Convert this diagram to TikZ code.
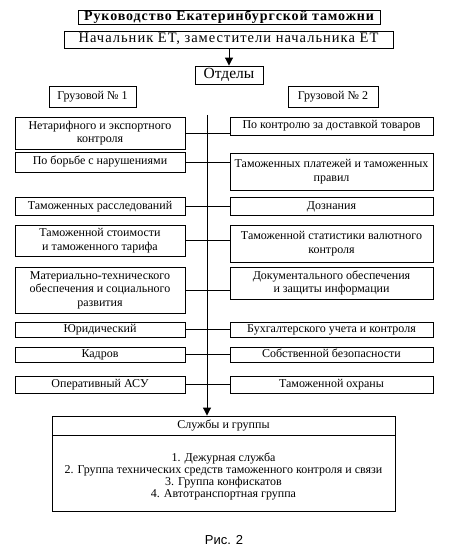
\documentclass[tikz,border=0pt]{standalone}
\usepackage{fontspec}
\setmainfont{Liberation Serif}
\newfontfamily\sansfnt{Liberation Sans}
\usetikzlibrary{arrows.meta}
\begin{document}
\begin{tikzpicture}[x=1pt,y=-1pt,
  box/.style={draw, line width=0.9pt, inner sep=1pt, align=center, font=\fontsize{12}{13.5}\selectfont},
  oneline/.style={text height=8.5pt, text depth=2.5pt},
  conn/.style={line width=0.9pt},
  arr/.style={line width=1pt, -{Triangle[length=8pt,width=8pt]}}]
\useasboundingbox (0,0) rectangle (451,553);
% top
\node[box, minimum width=302pt, minimum height=14pt, inner sep=0.5pt, text height=9.5pt, text depth=2.5pt, font=\bfseries\fontsize{14}{15}\addfontfeature{LetterSpace=6.5}\selectfont] (T) at (229,17) {Руководство Екатеринбургской таможни};
\node[box, minimum width=329pt, minimum height=17pt, inner sep=0.5pt, text height=10pt, text depth=3pt, font=\fontsize{14.5}{15}\addfontfeature{LetterSpace=7}\selectfont] (B) at (228.5,39.5) {Начальник ЕТ, заместители начальника ЕТ};
\node[box, minimum width=68pt, minimum height=18pt, text height=10.5pt, text depth=3pt, font=\fontsize{15.5}{16}\selectfont] (O) at (229,75) {Отделы};
\draw[arr] (B.south -| O.north) -- (O.north);
\node[box, oneline, minimum width=87pt, minimum height=21pt] (G1) at (92.5,96.5) {Грузовой № 1};
\node[box, oneline, minimum width=90pt, minimum height=21pt] (G2) at (333,96.5) {Грузовой № 2};
% left column
\node[box, minimum width=170pt, minimum height=32pt] (L1) at (100,133) {Нетарифного и экспортного\\контроля};
\node[box, oneline, minimum width=170pt, minimum height=20pt] (L2) at (100,162) {По борьбе с нарушениями};
\node[box, oneline, minimum width=170pt, minimum height=18pt] (L3) at (100,206) {Таможенных расследований};
\node[box, minimum width=170pt, minimum height=31pt] (L4) at (100,240.5) {Таможенной стоимости\\и таможенного тарифа};
\node[box, minimum width=170pt, minimum height=46pt] (L5) at (100,290) {Материально-технического\\обеспечения и социального\\развития};
\node[box, oneline, minimum width=170pt, minimum height=15pt] (L6) at (100,329.5) {Юридический};
\node[box, oneline, minimum width=170pt, minimum height=15pt] (L7) at (100,354.5) {Кадров};
\node[box, oneline, minimum width=170pt, minimum height=17pt] (L8) at (100,384.5) {Оперативный АСУ};
% right column
\node[box, oneline, minimum width=203pt, minimum height=18pt] (R1) at (331.5,126) {По контролю за доставкой товаров};
\node[box, minimum width=203pt, minimum height=37pt] (R2) at (331.5,171.5) {Таможенных платежей и таможенных\\правил};
\node[box, oneline, minimum width=203pt, minimum height=18pt] (R3) at (331.5,206) {Дознания};
\node[box, minimum width=203pt, minimum height=37pt] (R4) at (331.5,243.5) {Таможенной статистики валютного\\контроля};
\node[box, minimum width=203pt, minimum height=32pt] (R5) at (331.5,283) {Документального обеспечения\\и защиты информации};
\node[box, oneline, minimum width=203pt, minimum height=15pt] (R6) at (331.5,329.5) {Бухгалтерского учета и контроля};
\node[box, oneline, minimum width=203pt, minimum height=15pt] (R7) at (331.5,354.5) {Собственной безопасности};
\node[box, oneline, minimum width=203pt, minimum height=17pt] (R8) at (331.5,384.5) {Таможенной охраны};
% services
\node[box, oneline, minimum width=343pt, minimum height=19pt] (SH) at (223.5,425.5) {Службы и группы};
\node[box, minimum width=343pt, minimum height=76pt] (SL) at (223.5,473) {};
\node[align=center, inner sep=0pt, font=\fontsize{12}{12}\selectfont] (SLt) at (223.5,476) {1. Дежурная служба\\2. Группа технических средств таможенного контроля и связи\\3. Группа конфискатов\\4. Автотранспортная группа};
% spine
\coordinate (top) at (207,115);
\draw[arr] (top) -- (top |- SH.north);
\foreach \i in {1,...,8} {\draw[conn] (L\i.east) -- (L\i.east -| R\i.west);}
\node[font=\sansfnt\fontsize{13}{14}\selectfont] (fig) at (224,540) {Рис. 2};
\end{tikzpicture}
\end{document}
